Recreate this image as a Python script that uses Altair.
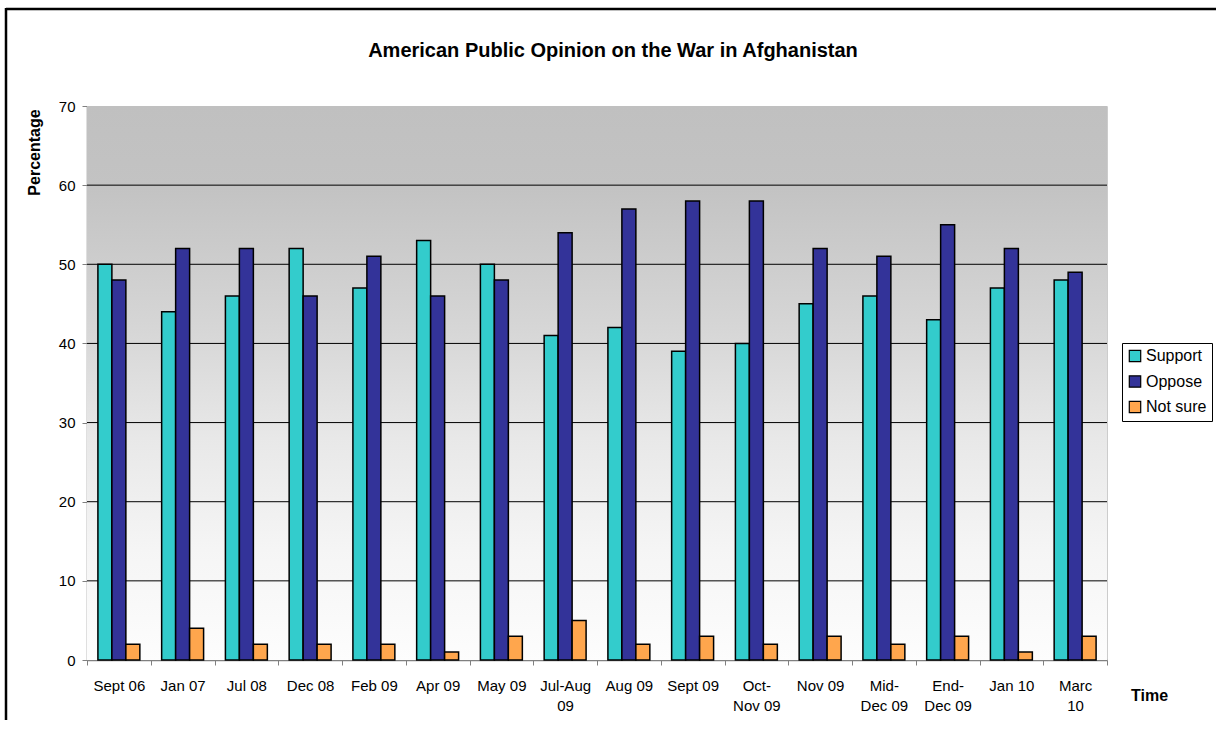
import altair as alt
import pandas as pd

# Survey periods (line breaks mark where the axis labels wrap)
periods = [
    "Sept 06", "Jan 07", "Jul 08", "Dec 08", "Feb 09", "Apr 09", "May 09",
    "Jul-Aug\n09", "Aug 09", "Sept 09", "Oct-\nNov 09", "Nov 09",
    "Mid-\nDec 09", "End-\nDec 09", "Jan 10", "Marc\n10",
]
support = [50, 44, 46, 52, 47, 53, 50, 41, 42, 39, 40, 45, 46, 43, 47, 48]
oppose = [48, 52, 52, 46, 51, 46, 48, 54, 57, 58, 58, 52, 51, 55, 52, 49]
not_sure = [2, 4, 2, 2, 2, 1, 3, 5, 2, 3, 2, 3, 2, 3, 1, 3]

responses = ["Support", "Oppose", "Not sure"]
colors = ["#33CCCC", "#333399", "#FFA64D"]

y_ticks = [0, 10, 20, 30, 40, 50, 60, 70]
grid_lines = [10, 20, 30, 40, 50, 60]

TITLE = "American Public Opinion on the War in Afghanistan"
FONT = "Liberation Sans"

W, H = 1020, 554

rows = []
for i, p in enumerate(periods):
    for r, vals in zip(responses, [support, oppose, not_sure]):
        rows.append({"period": p, "response": r, "pct": vals[i]})
df = pd.DataFrame(rows)

y_scale = alt.Scale(domain=[0, 70], nice=False)
y_axis = alt.Axis(
    title="Percentage",
    values=y_ticks,
    grid=False,
    labelFont=FONT,
    labelFontSize=15,
    labelColor="black",
    labelPadding=7,
    tickSize=5,
    tickColor="#808080",
    domainColor="#808080",
    domainWidth=1.5,
    titleFont=FONT,
    titleFontSize=16,
    titleFontWeight="bold",
    titleColor="black",
    titleX=-52.5,
    titleY=46,
    titleAlign="center",
    titleBaseline="middle",
)

# Plot-area backdrop: grey at the top fading to white
backdrop = alt.Chart(pd.DataFrame({"t": [0]})).mark_rect(
    color=alt.LinearGradient(
        gradient="linear", x1=0, y1=0, x2=0, y2=1,
        stops=[
            alt.GradientStop(offset=0.0, color="#c0c0c0"),
            alt.GradientStop(offset=0.15, color="#c3c3c3"),
            alt.GradientStop(offset=0.4, color="#d6d6d6"),
            alt.GradientStop(offset=0.6, color="#e8e8e8"),
            alt.GradientStop(offset=0.8, color="#f5f5f5"),
            alt.GradientStop(offset=1.0, color="#fdfdfd"),
        ],
    )
).encode(x=alt.value(0), x2=alt.value(W), y=alt.value(0), y2=alt.value(H))

grid = alt.Chart(pd.DataFrame({"pct": grid_lines})).mark_rule(
    color="black", strokeWidth=1
).encode(
    y=alt.Y("pct:Q", scale=y_scale, axis=y_axis),
    x=alt.value(0),
    x2=alt.value(W),
)

bars = alt.Chart(df).mark_bar(stroke="black", strokeWidth=1.5).encode(
    x=alt.X(
        "period:N",
        sort=periods,
        scale=alt.Scale(paddingInner=0, paddingOuter=0),
        axis=alt.Axis(
            title="Time",
            labelAngle=0,
            labelExpr="split(datum.label, '\\n')",
            labelFont=FONT,
            labelFontSize=15,
            labelColor="black",
            labelLineHeight=20,
            labelBaseline="top",
            labelPadding=13,
            tickBand="extent",
            tickSize=5,
            tickColor="#808080",
            domainColor="#808080",
            domainWidth=1.5,
            titleFont=FONT,
            titleFontSize=16,
            titleFontWeight="bold",
            titleColor="black",
            titleX=1062,
            titleY=40,
            titleAlign="center",
            titleBaseline="alphabetic",
            titleAngle=0,
        ),
    ),
    xOffset=alt.XOffset(
        "response:N",
        sort=responses,
        scale=alt.Scale(paddingInner=0, paddingOuter=0.78),
    ),
    y=alt.Y("pct:Q", scale=y_scale, axis=y_axis),
    color=alt.Color(
        "response:N",
        sort=responses,
        scale=alt.Scale(domain=responses, range=colors),
        legend=alt.Legend(
            title=None,
            orient="none",
            legendX=1035,
            legendY=237,
            padding=5,
            strokeColor="black",
            fillColor="white",
            symbolType="square",
            symbolSize=130,
            symbolStrokeColor="black",
            symbolStrokeWidth=1.2,
            symbolOpacity=1,
            labelFont=FONT,
            labelFontSize=16,
            labelColor="black",
            labelOffset=3,
            rowPadding=7.5,
        ),
    ),
)

one = pd.DataFrame({"t": [TITLE]})

title = alt.Chart(one).mark_text(
    font=FONT, fontSize=20, fontWeight="bold", color="black",
    align="center", baseline="alphabetic",
).encode(text="t:N", x=alt.value(526), y=alt.value(-49))

# Chart frame along the top and left edges
frame_top = alt.Chart(one).mark_rule(color="black", strokeWidth=2.5).encode(
    x=alt.value(-81), x2=alt.value(1140), y=alt.value(-97)
)
frame_left = alt.Chart(one).mark_rule(color="black", strokeWidth=2.5).encode(
    x=alt.value(-81), y=alt.value(-98), y2=alt.value(640)
)

chart = alt.layer(backdrop, grid, bars, title, frame_top, frame_left).properties(
    width=W,
    height=H,
    autosize=alt.AutoSizeParams(type="none"),
    padding={"left": 87, "top": 106, "right": 109, "bottom": 60},
    background="white",
).configure_view(
    stroke="#cccccc",
    strokeWidth=1,
)

chart.save("out.html", embed_options={"renderer": "svg", "actions": False})
